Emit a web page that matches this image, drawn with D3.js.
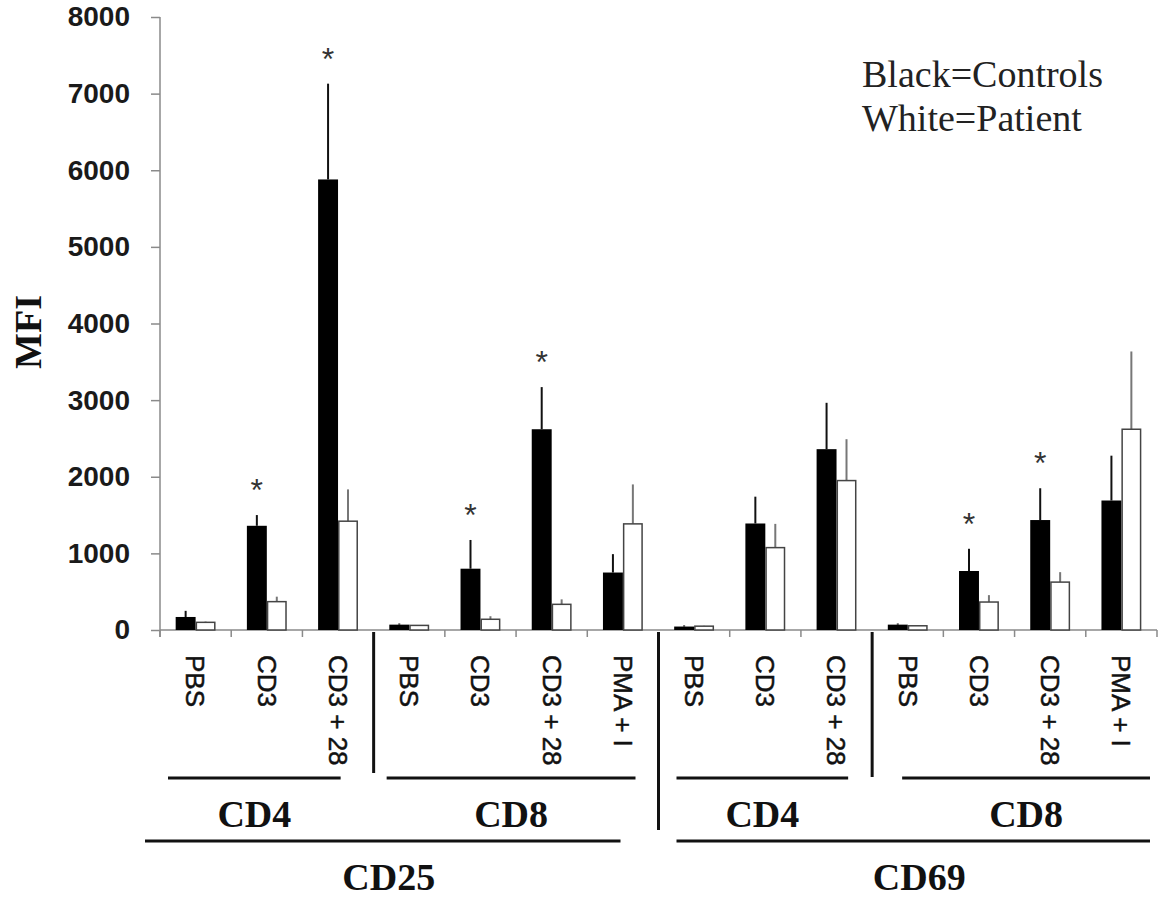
<!DOCTYPE html>
<meta charset="utf-8">
<script src="https://d3js.org/d3.v7.min.js"></script>
<style>
html, body { margin: 0; background: #fff; }
.ytick text { font: bold 28px "Liberation Sans", Arial, sans-serif; fill: #1a1a1a; }
.cat { font: 26px "Liberation Sans", Arial, sans-serif; fill: #111; stroke: #111; stroke-width: 0.5px; }
.grp { font: bold 38px "Liberation Serif", "Times New Roman", serif; fill: #111; }
.legend { font: 38px "Liberation Serif", "Times New Roman", serif; fill: #222; }
.star { font: 32px "Liberation Sans", Arial, sans-serif; fill: #333; }
</style>
<body>
<div id="chart"></div>
<script>

// stimulation conditions, left to right
var categories = ["PBS", "CD3", "CD3 + 28", "PBS", "CD3", "CD3 + 28", "PMA + I",
                  "PBS", "CD3", "CD3 + 28", "PBS", "CD3", "CD3 + 28", "PMA + I"];

// black bars = controls, white bars = patient (MFI)
var controls    = [170, 1360, 5880, 70, 800, 2620, 750, 45, 1390, 2360, 70, 770, 1435, 1690];
var controlsErr = [80, 140, 1250, 15, 375, 550, 240, 15, 350, 605, 15, 290, 415, 585];
var patient     = [100, 370, 1420, 60, 140, 335, 1385, 50, 1075, 1950, 55, 365, 625, 2620];
var patientErr  = [10, 65, 415, 5, 40, 65, 515, 5, 310, 540, 5, 90, 130, 1015];

// significant difference marker
var significant = [0, 1, 1, 0, 1, 1, 0, 0, 0, 0, 0, 1, 1, 0];

var yTicks = [0, 1000, 2000, 3000, 4000, 5000, 6000, 7000, 8000];

// cell type groups (first index, last index + 1)
var cellGroups   = ["CD4", "CD8", "CD4", "CD8"];
var cellStart    = [0, 3, 7, 10];
var cellEnd      = [3, 7, 10, 14];
var markerGroups = ["CD25", "CD69"];
var markerStart  = [0, 7];
var markerEnd    = [7, 14];

var legendLines = ["Black=Controls", "White=Patient"];

var width = 1164, height = 897;
var plotLeft = 160, plotRight = 1157, plotTop = 17, base = 630;

var svg = d3.select("#chart").append("svg")
    .attr("width", width)
    .attr("height", height);

var y = d3.scaleLinear().domain([0, 8000]).range([base, plotTop]);
var x = d3.scaleBand().domain(d3.range(categories.length)).range([plotLeft, plotRight]).padding(0);
var bw = x.bandwidth();
var barW = bw * 0.28;
var inner = d3.scaleBand().domain(["c", "p"]).range([(bw - 2 * barW) / 2, (bw + 2 * barW) / 2]);

function xEdge(i) { return i < categories.length ? x(i) : plotRight; }

// y axis
var yAxis = svg.append("g")
    .attr("class", "ytick")
    .attr("transform", "translate(" + plotLeft + ",0)")
    .call(d3.axisLeft(y).tickValues(yTicks).tickSize(9).tickPadding(21).tickFormat(d3.format("d")));
yAxis.select(".domain").attr("stroke", "#8a8a8a").attr("stroke-width", 1.5)
    .attr("d", "M0," + plotTop + "V" + (base + 7));
yAxis.selectAll(".tick line").attr("stroke", "#8a8a8a").attr("stroke-width", 1.5);

// x axis line + ticks between categories (not at group boundaries)
svg.append("line")
    .attr("x1", plotLeft).attr("x2", plotRight)
    .attr("y1", base).attr("y2", base)
    .attr("stroke", "#8a8a8a").attr("stroke-width", 1.5);

var boundaries = d3.range(categories.length + 1).filter(function(i) {
  return cellStart.indexOf(i) < 0 || i === 0;
});
svg.selectAll(".xtick").data(boundaries).enter().append("line")
    .attr("x1", xEdge).attr("x2", xEdge)
    .attr("y1", base).attr("y2", base + 7)
    .attr("stroke", "#8a8a8a").attr("stroke-width", 1.5);

// bars
var rows = categories.map(function(c, i) {
  return {i: i, c: controls[i], ce: controlsErr[i], p: patient[i], pe: patientErr[i], sig: significant[i]};
});

var g = svg.selectAll(".cat-g").data(rows).enter().append("g")
    .attr("transform", function(d) { return "translate(" + x(d.i) + ",0)"; });

// error lines (drawn first so the bar covers the base)
g.append("line")
    .attr("x1", inner("c") + barW / 2).attr("x2", inner("c") + barW / 2)
    .attr("y1", function(d) { return y(d.c); })
    .attr("y2", function(d) { return y(d.c + d.ce); })
    .attr("stroke", "#111").attr("stroke-width", 2);
g.append("line")
    .attr("x1", inner("p") + barW / 2).attr("x2", inner("p") + barW / 2)
    .attr("y1", function(d) { return y(d.p); })
    .attr("y2", function(d) { return y(d.p + d.pe); })
    .attr("stroke", "#777").attr("stroke-width", 2);

g.append("rect")
    .attr("x", inner("c"))
    .attr("width", barW)
    .attr("y", function(d) { return y(d.c); })
    .attr("height", function(d) { return base - y(d.c); })
    .attr("fill", "#000");

g.append("rect")
    .attr("x", inner("p") + 0.75)
    .attr("width", barW - 1.5)
    .attr("y", function(d) { return y(d.p); })
    .attr("height", function(d) { return base - y(d.p); })
    .attr("fill", "#fff")
    .attr("stroke", "#444").attr("stroke-width", 1.5);

g.filter(function(d) { return d.sig; }).append("text")
    .attr("class", "star")
    .attr("x", inner("c") + barW / 2)
    .attr("y", function(d) { return y(d.c + d.ce) - 32 + 18; })
    .attr("text-anchor", "middle")
    .text("*");

// category labels, rotated
g.append("text")
    .attr("class", "cat")
    .attr("transform", "translate(" + bw / 2 + "," + 655 + ") rotate(90)")
    .attr("dy", "0.35em")
    .text(function(d) { return categories[d.i]; });

// separators between cell groups
var sepBottom = {3: 773, 7: 830, 10: 777};
[3, 7, 10].forEach(function(i) {
  svg.append("line")
      .attr("x1", x(i)).attr("x2", x(i))
      .attr("y1", base + 2).attr("y2", sepBottom[i])
      .attr("stroke", "#111").attr("stroke-width", 3);
});

// cell-type group lines and labels
var cellInset = [[8, 33], [13, 23], [18, 24], [30, 7]];
cellGroups.forEach(function(name, k) {
  var x0 = x(cellStart[k]) + cellInset[k][0];
  var x1 = xEdge(cellEnd[k]) - cellInset[k][1];
  svg.append("line")
      .attr("x1", x0).attr("x2", x1).attr("y1", 778).attr("y2", 778)
      .attr("stroke", "#111").attr("stroke-width", 3);
  svg.append("text")
      .attr("class", "grp")
      .attr("x", (x0 + x1) / 2).attr("y", 827)
      .attr("text-anchor", "middle")
      .text(name);
});

var markerInset = [[-15, 38], [18, 7]];
markerGroups.forEach(function(name, k) {
  var x0 = x(markerStart[k]) + markerInset[k][0];
  var x1 = xEdge(markerEnd[k]) - markerInset[k][1];
  svg.append("line")
      .attr("x1", x0).attr("x2", x1).attr("y1", 841).attr("y2", 841)
      .attr("stroke", "#111").attr("stroke-width", 3);
  svg.append("text")
      .attr("class", "grp")
      .attr("x", (x0 + x1) / 2 + 6).attr("y", 890)
      .attr("text-anchor", "middle")
      .text(name);
});

// y axis title
svg.append("text")
    .attr("class", "grp")
    .attr("transform", "translate(41,332) rotate(-90)")
    .attr("text-anchor", "middle")
    .text("MFI");

// legend note
svg.selectAll(".legend").data(legendLines).enter().append("text")
    .attr("class", "legend")
    .attr("x", 862)
    .attr("y", function(d, i) { return 87 + i * 44; })
    .text(function(d) { return d; });

</script>
</body>
